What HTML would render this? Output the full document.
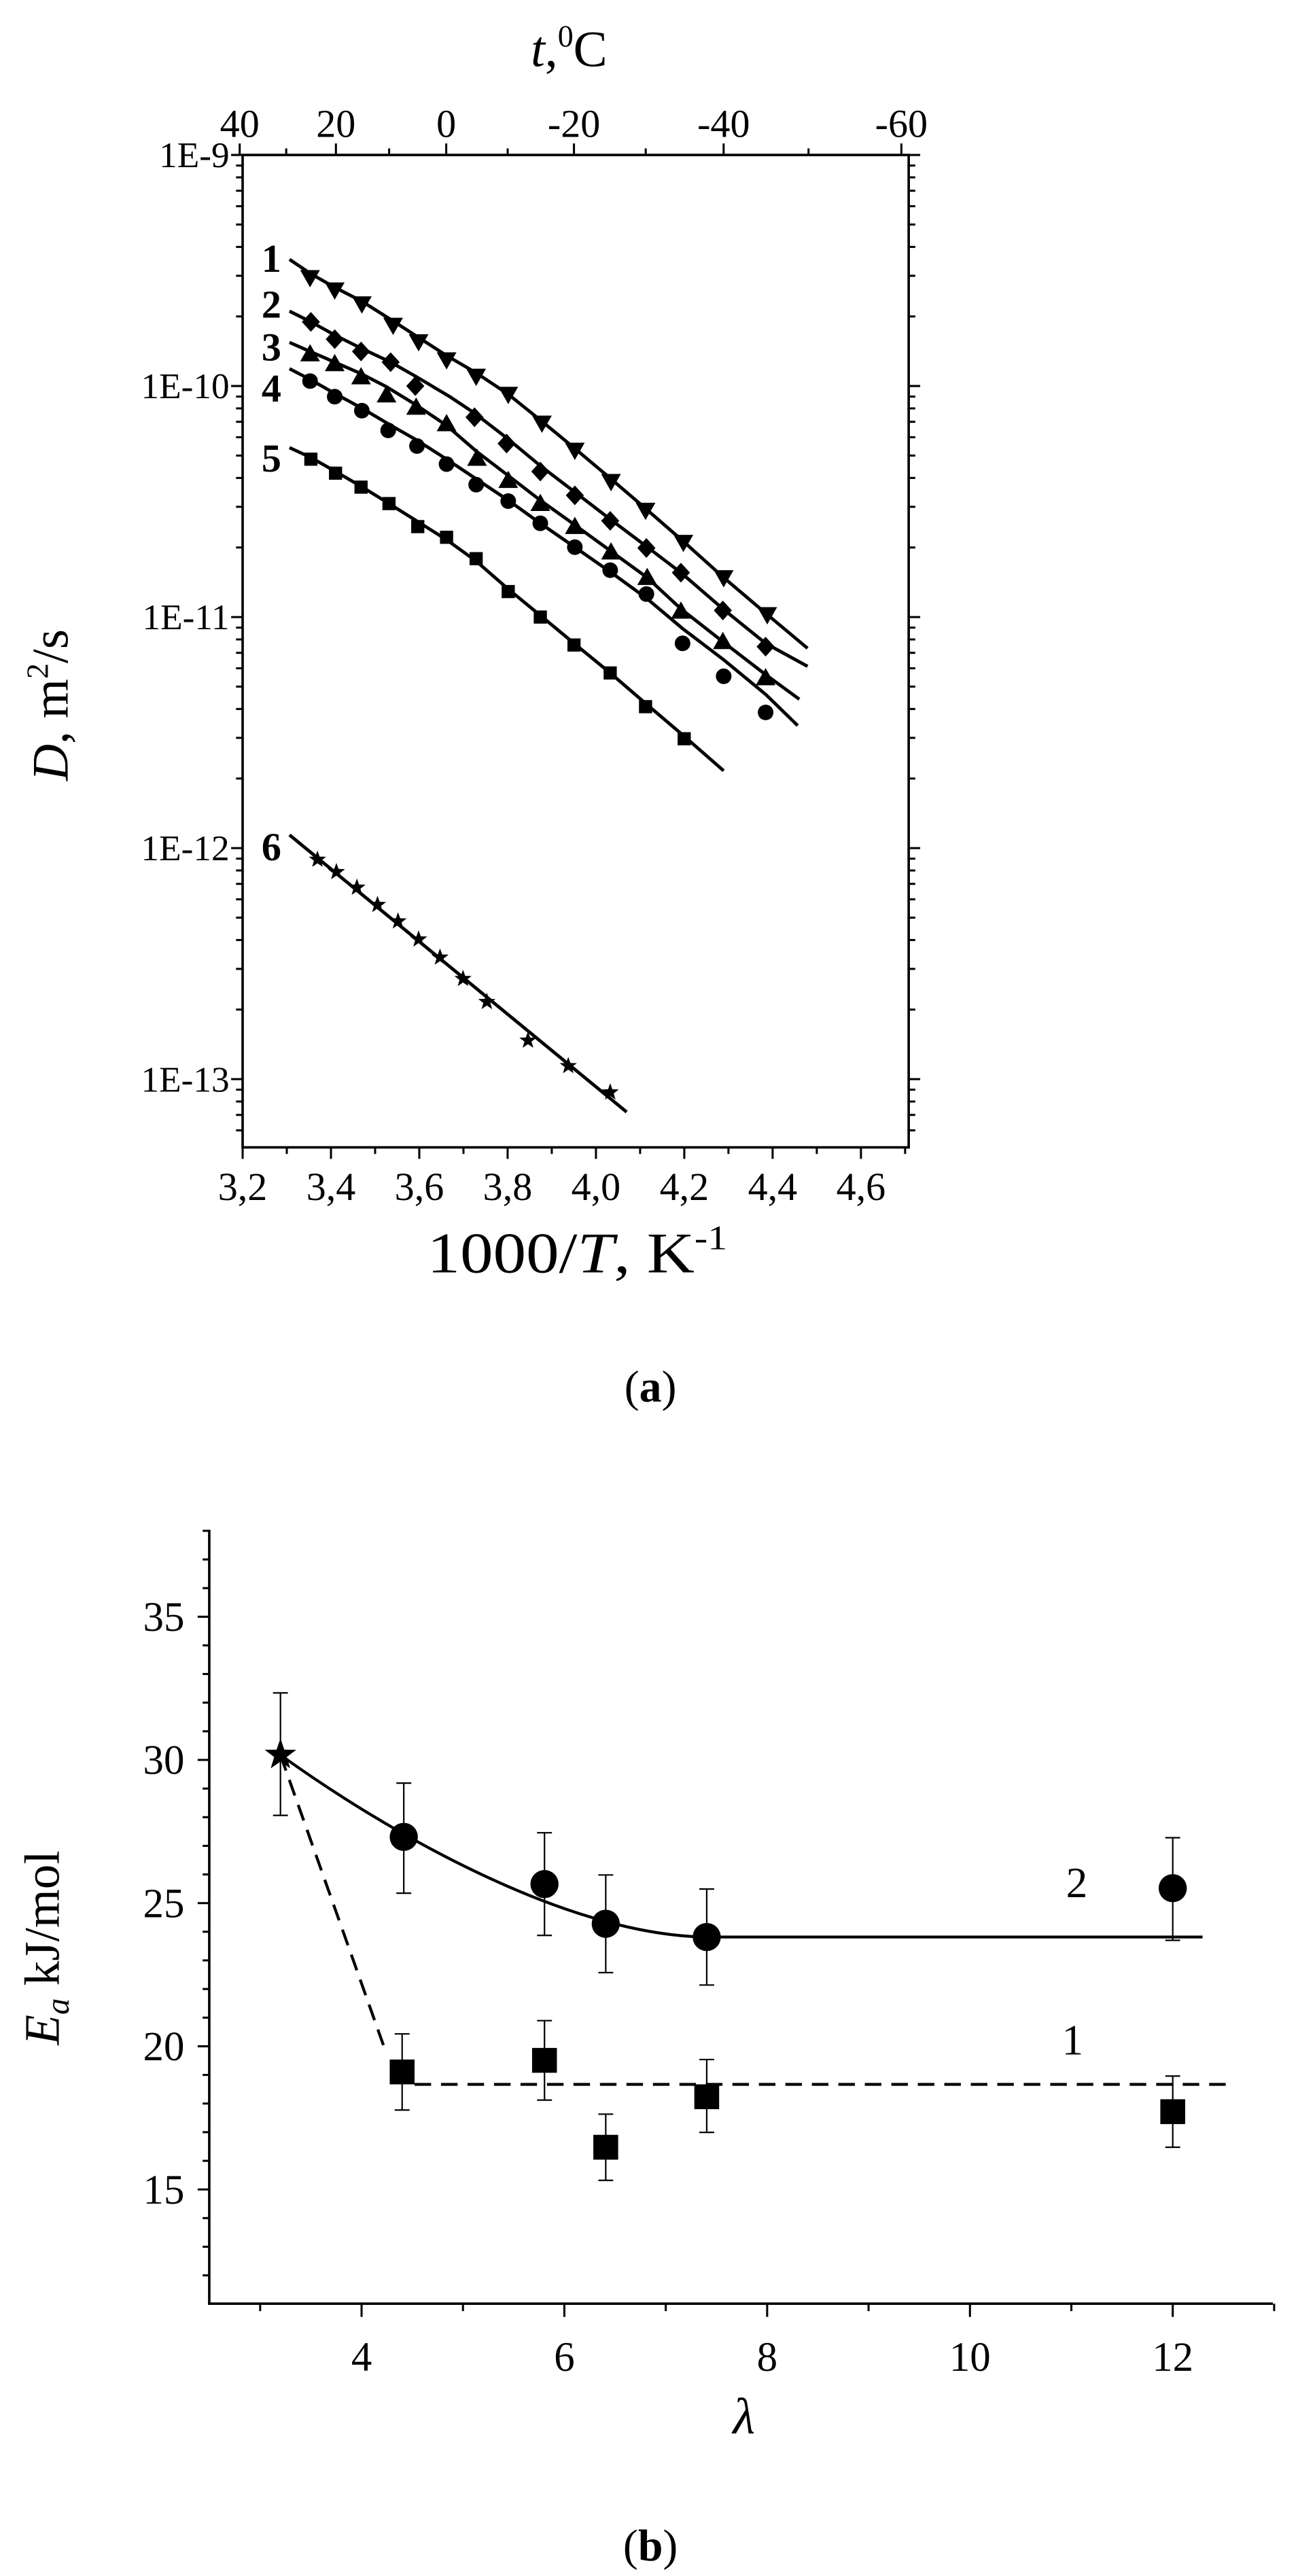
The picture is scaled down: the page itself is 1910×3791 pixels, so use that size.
<!DOCTYPE html>
<html><head><meta charset="utf-8">
<style>
html,body{margin:0;padding:0;background:#fff;}
body{width:1910px;height:3791px;position:relative;overflow:hidden;}
svg{position:absolute;left:0;top:0;}
text{font-family:"Liberation Serif","Times New Roman",serif;fill:#000;}
</style></head>
<body>
<svg id="s" width="1910" height="3791" viewBox="0 0 1910 3791">
<g id="A" transform="translate(2.5,3) scale(1.21)" stroke-linecap="butt">
  <rect x="293" y="186" width="810" height="1207" fill="none" stroke="#000" stroke-width="3"/>
  <text x="690" y="78" font-size="62" text-anchor="middle"><tspan font-style="italic">t</tspan>,<tspan font-size="38" dy="-24">0</tspan><tspan dy="24">C</tspan></text>
  <text x="700" y="1545" font-size="70" text-anchor="middle" textLength="365" lengthAdjust="spacingAndGlyphs">1000/<tspan font-style="italic">T</tspan>, K<tspan font-size="42" dy="-28">-1</tspan></text>
  <text transform="translate(80,855) rotate(-90)" font-size="62" text-anchor="middle"><tspan font-style="italic">D</tspan>, m<tspan font-size="38" dy="-24">2</tspan><tspan dy="24">/s</tspan></text>
  <g font-weight="bold" font-size="48" text-anchor="middle">
    <text x="328" y="328">1</text><text x="328" y="384">2</text><text x="328" y="436">3</text>
    <text x="328" y="486">4</text><text x="328" y="571">5</text><text x="328" y="1044">6</text>
  </g>
</g>
<g id="B" transform="translate(1,1886) scale(1.218)">
  <line x1="252" y1="300" x2="252" y2="1236.5" stroke="#000" stroke-width="3"/>
  <line x1="250.5" y1="1235" x2="1537" y2="1235" stroke="#000" stroke-width="3"/>
  <text x="785" y="145" font-size="54" text-anchor="middle">(<tspan font-weight="bold">a</tspan>)</text>
  <text x="785" y="1545" font-size="54" text-anchor="middle">(<tspan font-weight="bold">b</tspan>)</text>
  <text x="898" y="1392" font-size="62" font-style="italic" text-anchor="middle">λ</text>
  <text transform="translate(70,805) rotate(-90)" font-size="60" text-anchor="middle"><tspan font-style="italic">E</tspan><tspan font-style="italic" font-size="40" dy="12">a</tspan><tspan dy="-12"> kJ/mol</tspan></text>
  <text x="1300" y="744" font-size="52" text-anchor="middle">2</text>
  <text x="1295" y="934" font-size="52" text-anchor="middle">1</text>
</g>
</svg>
<script>
var NS="http://www.w3.org/2000/svg";
function el(p,n,a,t){var e=document.createElementNS(NS,n);for(var k in a)e.setAttribute(k,a[k]);if(t!==undefined)e.textContent=t;p.appendChild(e);return e;}
var A=document.getElementById("A"),B=document.getElementById("B");
function ln(p,x1,y1,x2,y2,w){el(p,"line",{x1:x1,y1:y1,x2:x2,y2:y2,stroke:"#000","stroke-width":w||2.5});}
var L=293,R=1103,T=186,Bt=1393;
function X(v){return 293+537.1*(v-3.2);}
function Y(e){return 186+(-9-e)*281;}
for(var i=0;i<=15;i++){var v=3.2+i*0.1;var x=X(v);if(x>R+1)break;var maj=(i%2==0);ln(A,x,Bt,x,Bt+(maj?14:8));
 if(maj){el(A,"text",{x:x,y:Bt+64,"font-size":48,"text-anchor":"middle"},v.toFixed(1).replace(".",","));}}
for(var t=40;t>=-60;t-=10){var x=X(1000/(273.15+t));var maj=(t%20==0);ln(A,x,T,x,T-(maj?14:8));
 if(maj)el(A,"text",{x:x,y:T-22,"font-size":48,"text-anchor":"middle"},String(t));}
for(var d=-9;d>=-14;d--){var y=Y(d);if(y<=Bt+1){ln(A,L,y,L-14,y);ln(A,R,y,R+14,y);
  el(A,"text",{x:L-16,y:y+15,"font-size":44,"text-anchor":"end"},"1E"+d);}
 for(var k=2;k<=9;k++){var yy=Y(d-1)-Math.log10(k)*281;if(yy>=T&&yy<=Bt){ln(A,L,yy,L-8,yy);ln(A,R,yy,R+8,yy);}}}
function curve(pts){el(A,"polyline",{points:pts.map(function(p){return p.join(",")}).join(" "),fill:"none",stroke:"#000","stroke-width":4,"stroke-linejoin":"round"});}
function mk(type,x,y){
 if(type=="dt")el(A,"polygon",{points:(x-12)+","+(y-9)+" "+(x+12)+","+(y-9)+" "+x+","+(y+12)});
 else if(type=="ut")el(A,"polygon",{points:(x-12)+","+(y+9)+" "+(x+12)+","+(y+9)+" "+x+","+(y-12)});
 else if(type=="di")el(A,"polygon",{points:x+","+(y-12)+" "+(x+11)+","+y+" "+x+","+(y+12)+" "+(x-11)+","+y});
 else if(type=="ci")el(A,"circle",{cx:x,cy:y,r:9.5});
 else if(type=="sq")el(A,"rect",{x:x-8,y:y-8,width:16,height:16});
 else if(type=="st"){var s="";for(var i=0;i<10;i++){var r=i%2?4.5:11,a=-Math.PI/2+i*Math.PI/5;s+=(x+r*Math.cos(a))+","+(y+r*Math.sin(a))+" ";}el(A,"polygon",{points:s});}
}
var S=[
 ["dt",[[350,313],[375,330],[405,347],[438,364],[476,388],[507,408],[541,430],[577,451],[616,477],[657,510],[697,543],[741,580],[783,616],[829,656],[878,700],[931,745],[980,786]],
  [[375,335],[405,350],[438,367],[476,393],[507,413],[541,435],[577,455],[616,477],[657,512],[697,545],[741,583],[783,618],[829,657],[878,700],[931,745]]],
 ["di",[[350,376],[376,389],[405,405],[437,421],[473,438],[503,455],[545,480],[575,500],[614,530],[655,564],[697,596],[740,629],[784,662],[826,694],[877,738],[929,780],[980,808]],
  [[376,389],[405,410],[437,425],[473,438],[503,467],[575,505],[614,537],[655,571],[697,600],[740,631],[784,664],[826,694],[877,740],[929,784]]],
 ["ut",[[350,414],[375,425],[405,438],[437,452],[468,468],[504,490],[541,515],[578,547],[616,576],[655,606],[697,636],[741,668],[785,700],[826,738],[877,778],[929,818],[970,848]],
  [[375,428],[405,440],[437,456],[468,478],[504,493],[541,513],[578,555],[616,582],[655,610],[697,638],[741,669],[785,700],[826,741],[877,778],[929,822]]],
 ["ci",[[350,446],[375,459],[405,476],[438,494],[470,513],[505,533],[541,556],[577,580],[616,606],[655,634],[697,663],[740,693],[784,725],[828,762],[878,800],[929,842],[968,880]],
  [[375,461],[405,480],[438,497],[470,521],[505,540],[541,562],[577,587],[616,607],[655,634],[697,663],[740,691],[784,720],[828,780],[878,820],[929,864]]],
 ["sq",[[350,542],[376,554],[406,571],[437,589],[471,610],[506,632],[541,654],[577,680],[616,714],[655,746],[696,780],[740,816],[783,853],[830,893],[878,935]],
  [[376,556],[406,573],[437,590],[471,610],[506,638],[541,651],[577,677],[616,717],[655,748],[696,782],[740,816],[783,857],[830,896]]],
 ["st",[[350,1013],[760,1350]],
  [[384,1043],[407,1058],[432,1077],[457,1098],[482,1118],[507,1140],[533,1162],[561,1188],[590,1216],[640,1263],[689,1294],[740,1326]]]
];
S.forEach(function(s){curve(s[1]);s[2].forEach(function(p){mk(s[0],p[0],p[1]);});});
function XB(v){return 436+(v-4)*122.5;}
function YB(v){return 578-(v-30)*34.6;}
for(var v=3;v<=13;v++){var x=XB(v);var maj=(v%2==0);ln(B,x,1235,x,1235+(maj?16:9));
 if(maj)el(B,"text",{x:x,y:1316,"font-size":50,"text-anchor":"middle"},String(v));}
for(var v=12;v<=38;v++){var y=YB(v);var maj=(v%5==0);ln(B,252,y,252-(maj?14:8),y);
 if(maj)el(B,"text",{x:222,y:y+17,"font-size":50,"text-anchor":"end"},String(v));}
el(B,"path",{d:"M338,572 C460,660 680,790 853,792 L1452,792",fill:"none",stroke:"#000","stroke-width":3.5});
el(B,"path",{d:"M338,572 L465,930",fill:"none",stroke:"#000","stroke-width":3.5,"stroke-dasharray":"20,12"});
el(B,"path",{d:"M500,970 L1482,970",fill:"none",stroke:"#000","stroke-width":3.5,"stroke-dasharray":"20,12"});
function eb(x,y1,y2){ln(B,x,y1,x,y2,1.8);ln(B,x-9,y1,x+9,y1,1.8);ln(B,x-9,y2,x+9,y2,1.8);}
eb(338,497,645);
[[487,671,606,739],[657,728,666,790],[731,776,717,835],[853,792,734,850],[1416,733,672,796]].forEach(function(p){eb(p[0],p[2],p[3]);el(B,"circle",{cx:p[0],cy:p[1],r:17});});
[[485,955,909,1001],[657,941,893,989],[731,1046,1006,1086],[853,985,940,1028],[1416,1003,960,1046]].forEach(function(p){eb(p[0],p[2],p[3]);el(B,"rect",{x:p[0]-15,y:p[1]-15,width:30,height:30});});
(function(){var x=338,y=572,s="";for(var i=0;i<10;i++){var r=i%2?8:20,a=-Math.PI/2+i*Math.PI/5;s+=(x+r*Math.cos(a))+","+(y+r*Math.sin(a))+" ";}el(B,"polygon",{points:s});})();
</script>
</body></html>
